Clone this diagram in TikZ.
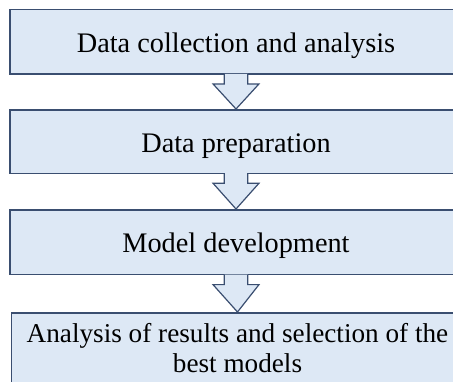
\documentclass[tikz,border=0pt]{standalone}
\usepackage{fontspec}
\setmainfont{Liberation Serif}
\usetikzlibrary{calc}
\definecolor{boxfill}{RGB}{221,232,245}
\definecolor{boxdraw}{RGB}{58,78,112}
\begin{document}
\begin{tikzpicture}[x=1pt,y=-1pt,
  stage/.style={draw=boxdraw, fill=boxfill, line width=1.4pt, rectangle,
    minimum width=452pt, inner sep=0pt, font=\fontsize{28.3}{30.5}\selectfont},
  oneline/.style={text height=21pt, text depth=0pt},
  flowarrow/.style={draw=boxdraw, fill=boxfill, line width=1.2pt, line join=miter}]
\useasboundingbox (0,0) rectangle (453,381);
\clip (0,0) rectangle (453,381);
\node[stage, oneline, minimum height=64.5pt] (s1) at (236,41.75) {Data collection and analysis};
\node[stage, oneline, minimum height=63.3pt] (s2) at (236,141.65) {Data preparation};
\node[stage, oneline, minimum height=64.7pt] (s3) at (236,242.35) {Model development};
\node[stage, minimum height=70.6pt, align=center, font=\fontsize{27.2}{30.5}\selectfont] (s4) at (237.5,348.3)
  {Analysis of results and selection of the\\best models};
\foreach \a/\b in {s1/s2, s2/s3, s3/s4}{
  \draw[flowarrow] ($(\a.south)+(-11.75,-0.8)$) -- ($(\a.south)+(-11.75,9.2)$)
    -- ($(\a.south)+(-23,9.2)$) -- ($(\b.north)+(0,-0.3)$) -- ($(\a.south)+(23,9.2)$)
    -- ($(\a.south)+(11.75,9.2)$) -- ($(\a.south)+(11.75,-0.8)$);
}
\end{tikzpicture}
\end{document}
